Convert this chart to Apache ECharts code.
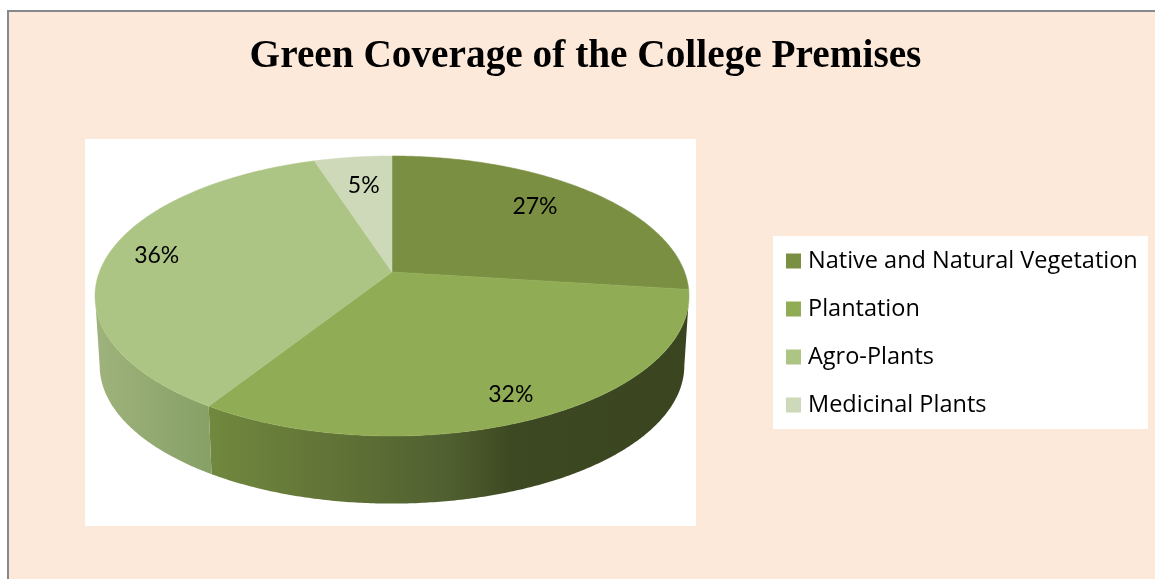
<!DOCTYPE html>
<html>
<head>
<meta charset="utf-8">
<style>html,body{margin:0;padding:0;background:#fff;overflow:hidden}#c{width:1155px;height:579px}</style>
<script src="https://cdn.jsdelivr.net/npm/echarts@6/dist/echarts.min.js"></script>
</head>
<body>
<div id="c"></div>
<script>
// Share of the green coverage per land use, in percent.
const categories = ['Native and Natural Vegetation', 'Plantation', 'Agro-Plants', 'Medicinal Plants'];
const shares = [27, 32, 36, 5];
const titleText = 'Green Coverage of the College Premises';

const topColors = ['#7a8f42', '#90ad55', '#adc584', '#cdd9b8'];
// Rim shading per slice, left to right across its visible width.
const rimStops = [
  [],
  [[0, '#71883e'], [0.3, '#5f7036'], [0.5, '#505f30'], [0.63, '#3d4922'], [1, '#3a4520']],
  [[0, '#9fb37c'], [1, '#86a066']],
  []
];
// Fine adjustment of each percent label from its radial anchor.
const labelNudge = [[-18, 0], [5, 10], [-7, -3], [4, 8]];

// Perspective disc: a unit circle on the table, seen from the front.
const tilt = 0.1714;
const topDisc = { cx: 392, cy: 272, rx: 292.6, ry: 135.9 };
const baseDisc = { cx: 392, cy: 342, rx: 288, ry: 133.9 };

function project(disc, radius, clockDeg) {
  const a = clockDeg * Math.PI / 180;
  const u = radius * Math.sin(a);
  const v = -radius * Math.cos(a);
  const s = 1 / (1 - tilt * v);
  return [disc.cx + disc.rx * u * s, disc.cy + disc.ry * v * s];
}

function arc(disc, from, to) {
  const pts = [];
  const steps = Math.max(2, Math.ceil(Math.abs(to - from) * 2));
  for (let i = 0; i <= steps; i++) {
    pts.push(project(disc, 1, from + (to - from) * i / steps));
  }
  return pts;
}

const total = shares.reduce((a, b) => a + b, 0);
// The rim is visible only on the near side of the silhouette tangents.
const horizon = Math.acos(-tilt) * 180 / Math.PI;

function renderSlice(index) {
  return function () {
    const before = shares.slice(0, index).reduce((a, b) => a + b, 0);
    const start = before / total * 360;
    const end = (before + shares[index]) / total * 360;
    const children = [];

    const rimA = Math.max(start, horizon);
    const rimB = Math.min(end, 360 - horizon);
    if (rimB > rimA && rimStops[index].length) {
      const stops = rimStops[index].map(s => ({ offset: s[0], color: s[1] }));
      children.push({
        type: 'polygon',
        shape: { points: arc(topDisc, rimA, rimB).concat(arc(baseDisc, rimB, rimA)) },
        style: {
          fill: new echarts.graphic.LinearGradient(0, 0, 1, 0, stops),
          stroke: 'none'
        }
      });
    }

    children.push({
      type: 'polygon',
      shape: { points: [project(topDisc, 0, 0)].concat(arc(topDisc, start, end)) },
      style: { fill: topColors[index], stroke: topColors[index], lineWidth: 0.5 }
    });

    const mid = (start + end) / 2;
    const anchor = project(topDisc, 0.8, mid);
    children.push({
      type: 'text',
      z2: 10,
      style: {
        text: shares[index] + '%',
        x: anchor[0] + labelNudge[index][0],
        y: anchor[1] + labelNudge[index][1],
        fill: '#000',
        font: '23px Lato',
        align: 'center',
        verticalAlign: 'middle'
      }
    });
    return { type: 'group', children: children };
  };
}

const chart = echarts.init(document.getElementById('c'), null, { renderer: 'canvas' });
chart.setOption({
  animation: false,
  backgroundColor: '#fff',
  title: {
    text: titleText,
    left: 580.5,
    top: 32,
    textAlign: 'center',
    textStyle: { fontFamily: 'Liberation Serif', fontWeight: 'bold', fontSize: 39.3, color: '#000' }
  },
  legend: {
    left: 781,
    top: 244,
    orient: 'vertical',
    icon: 'rect',
    itemWidth: 15,
    itemHeight: 15,
    itemGap: 24,
    selectedMode: false,
    data: categories,
    textStyle: { fontFamily: 'Open Sans', fontSize: 23.5, color: '#000', padding: [0, 0, 0, 2], lineHeight: 24 }
  },
  graphic: [
    { type: 'rect', z: -3, shape: { x: 8, y: 11, width: 1200, height: 620 },
      style: { fill: '#fde9da', stroke: '#85888d', lineWidth: 2 } },
    { type: 'rect', z: -2, shape: { x: 85, y: 139, width: 611, height: 387 }, style: { fill: '#fff' } },
    { type: 'rect', z: -2, shape: { x: 773, y: 236, width: 375, height: 193 }, style: { fill: '#fff' } }
  ],
  series: categories.map((name, i) => ({
    type: 'custom',
    name: name,
    coordinateSystem: 'none',
    silent: true,
    itemStyle: { color: topColors[i] },
    data: [[shares[i]]],
    renderItem: renderSlice(i)
  }))
});
</script>
</body>
</html>
